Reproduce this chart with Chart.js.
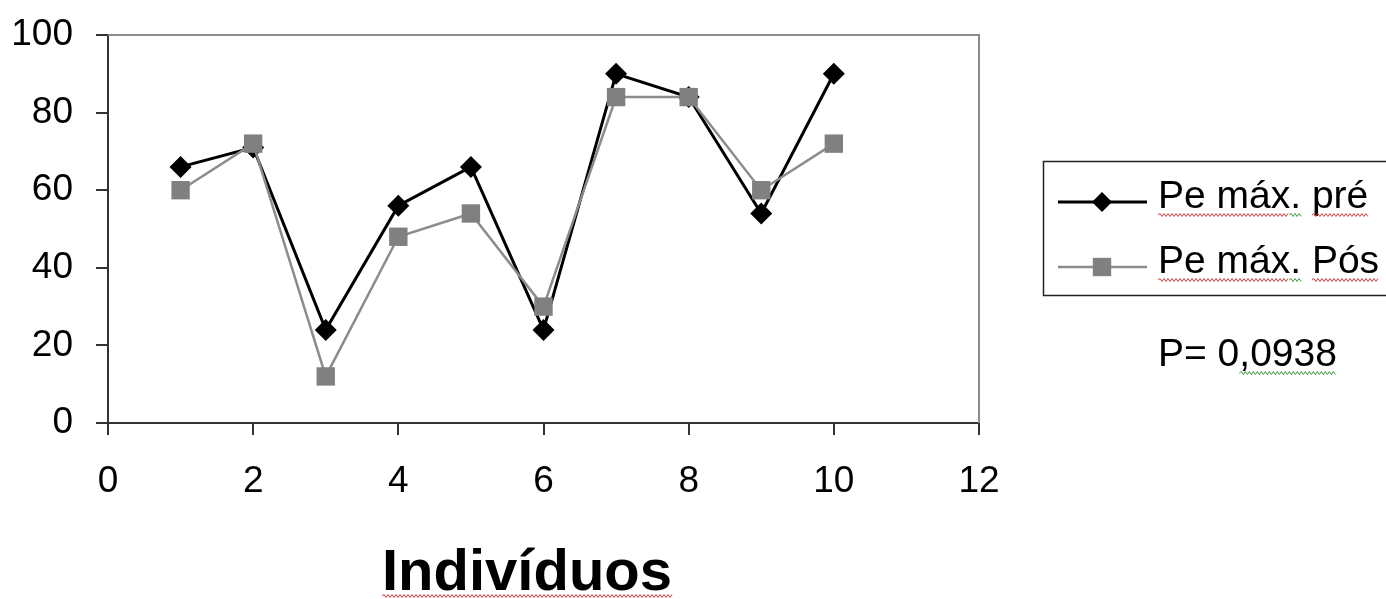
<!DOCTYPE html>
<html>
<head>
<meta charset="utf-8">
<script src="https://cdn.jsdelivr.net/npm/chart.js@4.4.0/dist/chart.umd.min.js"></script>
<style>
  html, body { margin: 0; padding: 0; background: #fff; }
  canvas { display: block; }
</style>
</head>
<body>
<canvas id="chart" width="1386" height="599"></canvas>
<script>
// data
const individuos = [1, 2, 3, 4, 5, 6, 7, 8, 9, 10];
const peMaxPre   = [66, 71, 24, 56, 66, 24, 90, 84, 54, 90];
const peMaxPos   = [60, 72, 12, 48, 54, 30, 84, 84, 60, 72];
const seriesNames = ['Pe máx. pré', 'Pe máx. Pós'];
const xTitle = 'Indivíduos';
const pValue = 'P= 0,0938';

const FONT = "'Liberation Sans', Arial, sans-serif";

const toPoints = ys => ys.map((y, i) => ({ x: individuos[i], y }));

// red / green spell-check squiggle like in the original screenshot
function squiggle(ctx, x1, x2, y, color) {
  ctx.save();
  ctx.strokeStyle = color;
  ctx.lineWidth = 1;
  ctx.beginPath();
  ctx.moveTo(x1, y);
  let up = true;
  for (let x = x1 + 2; x <= x2; x += 2) {
    ctx.lineTo(x, y + (up ? -1.5 : 1.5));
    up = !up;
  }
  ctx.stroke();
  ctx.restore();
}

// gray top/right frame of the plot area
const frame = {
  id: 'frame',
  beforeDatasetsDraw(chart) {
    const { ctx, chartArea: a } = chart;
    ctx.save();
    ctx.strokeStyle = '#8c8c8c';
    ctx.lineWidth = 2;
    ctx.beginPath();
    ctx.moveTo(a.left, a.top);
    ctx.lineTo(a.right, a.top);
    ctx.lineTo(a.right, a.bottom);
    ctx.stroke();
    ctx.restore();
  }
};

// boxed legend, p value and axis title, drawn as in the original
const extras = {
  id: 'extras',
  afterDraw(chart) {
    const ctx = chart.ctx;
    ctx.save();

    // legend box (runs off the right edge)
    ctx.strokeStyle = '#222';
    ctx.lineWidth = 1.5;
    ctx.strokeRect(1043.5, 161.5, 400, 134);

    ctx.font = '39px ' + FONT;
    ctx.textAlign = 'left';
    ctx.textBaseline = 'alphabetic';
    chart.data.datasets.forEach((ds, i) => {
      const ly = 202 + i * 65;
      ctx.strokeStyle = ds.borderColor;
      ctx.lineWidth = ds.borderWidth;
      ctx.beginPath();
      ctx.moveTo(1058, ly);
      ctx.lineTo(1147, ly);
      ctx.stroke();
      ctx.fillStyle = ds.pointBackgroundColor;
      Chart.helpers.drawPoint(ctx, {
        pointStyle: ds.pointStyle, radius: ds.legendRadius, rotation: 0, borderWidth: 0
      }, 1102, ly);

      const tx = 1158, base = 208 + i * 65;
      ctx.fillStyle = '#000';
      ctx.fillText(ds.label, tx, base);
      const w1 = ctx.measureText('Pe máx.').width;
      const w2 = ctx.measureText('Pe máx. ').width;
      const wAll = ctx.measureText(ds.label).width;
      squiggle(ctx, tx, tx + w1 - 12, base + 7, '#d23c3c');
      squiggle(ctx, tx + w1 - 12, tx + w1, base + 7, '#3c9a3c');
      squiggle(ctx, tx + w2, tx + wAll, base + 7, '#d23c3c');
    });

    // p value
    ctx.fillStyle = '#000';
    ctx.fillText(pValue, 1158, 366);
    const pw0 = ctx.measureText('P= 0').width;
    const pw = ctx.measureText(pValue).width;
    squiggle(ctx, 1158 + pw0, 1158 + pw, 373, '#3c9a3c');

    // x axis title
    ctx.font = 'bold 58px ' + FONT;
    ctx.textAlign = 'center';
    ctx.fillText(xTitle, 527, 590);
    const tw = ctx.measureText(xTitle).width;
    squiggle(ctx, 527 - tw / 2, 527 + tw / 2, 596, '#d23c3c');

    ctx.restore();
  }
};

const ctx = document.getElementById('chart').getContext('2d');

new Chart(ctx, {
  type: 'line',
  data: {
    datasets: [
      {
        label: seriesNames[0],
        data: toPoints(peMaxPre),
        borderColor: '#000',
        borderWidth: 3,
        pointStyle: 'rectRot',
        pointRadius: 11,
        legendRadius: 10,
        pointBackgroundColor: '#000',
        pointBorderWidth: 0,
        tension: 0,
        order: 1
      },
      {
        label: seriesNames[1],
        data: toPoints(peMaxPos),
        borderColor: '#8c8c8c',
        borderWidth: 2.5,
        pointStyle: 'rect',
        pointRadius: 13,
        legendRadius: 13,
        pointBackgroundColor: '#808080',
        pointBorderWidth: 0,
        tension: 0,
        order: 0
      }
    ]
  },
  options: {
    responsive: false,
    animation: false,
    devicePixelRatio: 1,
    layout: { padding: { left: 0, top: 35, right: 407, bottom: 0 } },
    plugins: {
      legend: { display: false },
      tooltip: { enabled: false }
    },
    scales: {
      x: {
        type: 'linear',
        min: 0,
        max: 12,
        ticks: { stepSize: 2, color: '#000', font: { family: FONT, size: 37 }, padding: 25, maxRotation: 0 },
        grid: { drawOnChartArea: false, drawTicks: true, tickLength: 12, tickColor: '#333', lineWidth: 2 },
        border: { color: '#333', width: 2 },
        afterFit: s => { s.height = 176; s.paddingLeft = 0; s.paddingRight = 0; }
      },
      y: {
        min: 0,
        max: 100,
        ticks: { stepSize: 20, color: '#000', font: { family: FONT, size: 37 }, padding: 23 },
        grid: { drawOnChartArea: false, drawTicks: true, tickLength: 12, tickColor: '#333', lineWidth: 2 },
        border: { color: '#333', width: 2 },
        afterFit: s => { s.width = 108; s.paddingTop = 0; s.paddingBottom = 0; }
      }
    }
  },
  plugins: [frame, extras]
});
</script>
</body>
</html>
